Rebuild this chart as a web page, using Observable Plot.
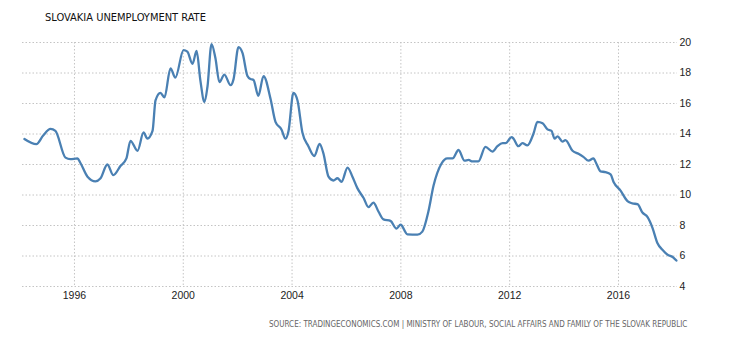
<!DOCTYPE html>
<html>
<head>
<meta charset="utf-8">
<script src="https://cdn.jsdelivr.net/npm/d3@7"></script>
<script src="https://cdn.jsdelivr.net/npm/@observablehq/plot@0.6"></script>
<style>
  html, body { margin: 0; padding: 0; background: #fff; }
  #wrap { position: relative; width: 730px; height: 340px; overflow: hidden; }
  #title { position: absolute; left: 45px; top: 11px; font-family: "DejaVu Sans Condensed", "Liberation Sans Narrow", "DejaVu Sans", sans-serif; font-size: 11px; color: #111; white-space: nowrap; }
  #chart { position: absolute; left: 0; top: 30px; }
  #source { position: absolute; left: 269px; top: 320px; font-family: "DejaVu Sans Condensed", "Liberation Sans Narrow", "DejaVu Sans", sans-serif; font-size: 8px; color: #666; white-space: nowrap; }
</style>
</head>
<body>
<div id="wrap">
  <div id="title">SLOVAKIA UNEMPLOYMENT RATE</div>
  <div id="chart"></div>
  <div id="source">SOURCE: TRADINGECONOMICS.COM | MINISTRY OF LABOUR, SOCIAL AFFAIRS AND FAMILY OF THE SLOVAK REPUBLIC</div>
</div>
<script>
const years = [
  1994.16, 1994.60, 1994.85, 1995.12, 1995.30, 1995.67, 1995.85, 1996.11, 1996.22, 1996.48,
  1996.77, 1996.96, 1997.21, 1997.43, 1997.69, 1997.91, 1998.06, 1998.32, 1998.54, 1998.68,
  1998.87, 1998.98, 1999.16, 1999.31, 1999.53, 1999.71, 2000.01, 2000.15, 2000.34, 2000.49,
  2000.63, 2000.78, 2000.89, 2001.04, 2001.18, 2001.33, 2001.51, 2001.74, 2001.85, 2002.03,
  2002.18, 2002.36, 2002.47, 2002.58, 2002.76, 2002.95, 2003.21, 2003.39, 2003.61, 2003.76,
  2003.87, 2004.05, 2004.20, 2004.38, 2004.60, 2004.82, 2005.01, 2005.15, 2005.34, 2005.52,
  2005.67, 2005.82, 2006.04, 2006.22, 2006.40, 2006.63, 2006.81, 2006.99, 2007.18, 2007.36,
  2007.62, 2007.84, 2007.99, 2008.24, 2008.61, 2008.79, 2009.01, 2009.20, 2009.49, 2009.71,
  2009.90, 2010.12, 2010.34, 2010.49, 2010.63, 2010.85, 2011.11, 2011.37, 2011.55, 2011.74,
  2011.85, 2012.07, 2012.14, 2012.32, 2012.47, 2012.65, 2012.88, 2013.02, 2013.21, 2013.39,
  2013.54, 2013.65, 2013.76, 2013.94, 2014.05, 2014.31, 2014.53, 2014.71, 2014.90, 2015.08,
  2015.19, 2015.34, 2015.52, 2015.71, 2015.82, 2016.07, 2016.33, 2016.51, 2016.70, 2016.88,
  2017.07, 2017.25, 2017.43, 2017.65, 2017.79, 2018.02, 2018.13
];
const rates = [
  13.67, 13.33, 13.9, 14.33, 14.2, 12.45, 12.35, 12.4, 12.1, 11.2,
  10.9, 11.1, 12.0, 11.3, 11.9, 12.4, 13.55, 12.9, 14.1, 13.7,
  14.2, 16.2, 16.7, 16.4, 18.3, 17.7, 19.5, 19.4, 18.6, 19.45,
  17.5, 16.1, 17.1, 19.9, 19.0, 17.4, 17.9, 17.2, 17.6, 19.7,
  19.3, 17.8, 17.6, 17.55, 16.5, 17.8, 16.3, 14.8, 14.3, 13.7,
  14.2, 16.7, 16.2, 14.1, 13.2, 12.55, 13.35, 12.75, 11.2, 10.95,
  11.1, 10.87, 11.8, 11.2, 10.45, 9.8, 9.2, 9.5, 8.9, 8.4,
  8.3, 7.8, 8.05, 7.42, 7.4, 7.6, 8.9, 10.6, 12.05, 12.4,
  12.4, 12.95, 12.25, 12.3, 12.2, 12.2, 13.15, 12.85, 13.2, 13.4,
  13.4, 13.8, 13.7, 13.2, 13.4, 13.25, 14.05, 14.8, 14.7, 14.3,
  14.2, 13.7, 13.85, 13.5, 13.6, 12.9, 12.7, 12.5, 12.25, 12.4,
  12.05, 11.55, 11.5, 11.35, 10.85, 10.3, 9.6, 9.45, 9.4, 8.85,
  8.55, 7.85, 6.85, 6.35, 6.1, 5.9, 5.7
];
const xTicks = [1996, 2000, 2004, 2008, 2012, 2016];
const yTicks = [4, 6, 8, 10, 12, 14, 16, 18, 20];

const data = years.map((y, i) => ({year: y, rate: rates[i]}));

const chart = Plot.plot({
  width: 730,
  height: 280,
  marginTop: 12,
  marginBottom: 24,
  marginLeft: 22,
  marginRight: 53,
  style: {fontFamily: "'Liberation Sans', Arial, sans-serif", fontSize: "10.5px", color: "#222", background: "#fff"},
  x: {type: "linear", domain: [1994.09, 2018.17]},
  y: {domain: [4, 20]},
  marks: [
    Plot.gridY(yTicks, {stroke: "#c4c4c4", strokeOpacity: 1, strokeDasharray: "1.5,2"}),
    Plot.gridX(xTicks, {stroke: "#c4c4c4", strokeOpacity: 1, strokeDasharray: "1.5,2"}),
    Plot.axisY(yTicks, {anchor: "right", tickSize: 0, tickPadding: 2, label: null, fill: "#222"}),
    Plot.axisX(xTicks, {anchor: "bottom", tickSize: 0, tickPadding: 5, label: null, tickFormat: d => String(d), fill: "#222"}),
    Plot.line(data, {x: "year", y: "rate", curve: "monotone-x", stroke: "#4a80b3", strokeWidth: 2.3})
  ]
});
document.getElementById("chart").appendChild(chart);
</script>
</body>
</html>
